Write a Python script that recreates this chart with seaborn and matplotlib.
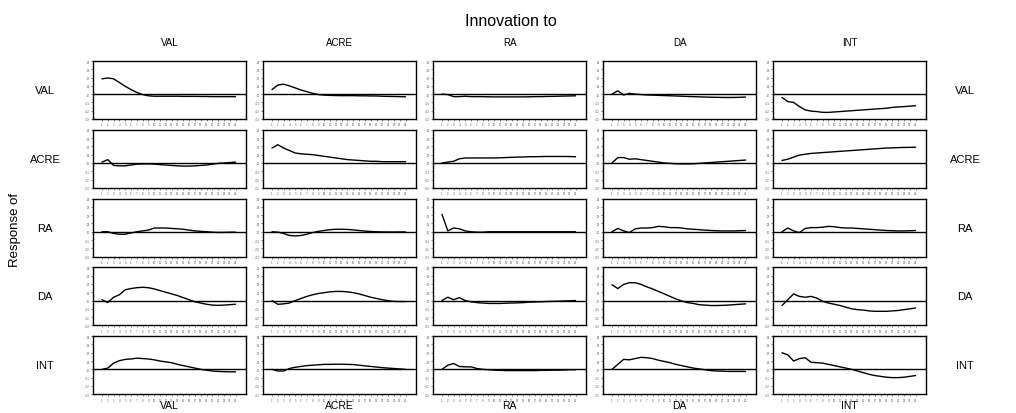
import matplotlib
matplotlib.use("Agg")
import matplotlib.pyplot as plt
import seaborn as sns
import numpy as np
import pandas as pd

sns.set_style("white")
plt.rcParams['font.family'] = ['Liberation Sans', 'DejaVu Sans']
plt.rcParams['text.color'] = 'black'

variables = ["VAL", "ACRE", "RA", "DA", "INT"]
periods = list(range(1, 25))
y_ticks = [-0.03, -0.02, -0.01, 0.0, 0.01, 0.02, 0.03, 0.04]
y_tick_labels = ["-.03", "-.02", "-.01", ".00", ".01", ".02", ".03", ".04"]

# responses (in hundredths); key = (response, innovation)
val_val = [1.85, 1.95, 1.85, 1.4, 0.95, 0.55, 0.2, -0.05, -0.2, -0.25, -0.25, -0.25, -0.25, -0.25, -0.27, -0.27, -0.27, -0.28, -0.28, -0.3, -0.3, -0.3, -0.3, -0.3]
val_acre = [0.55, 1.1, 1.2, 1.0, 0.75, 0.5, 0.3, 0.1, -0.05, -0.12, -0.15, -0.17, -0.18, -0.18, -0.18, -0.2, -0.2, -0.22, -0.22, -0.25, -0.27, -0.28, -0.3, -0.32]
val_ra = [0.0, -0.05, -0.3, -0.3, -0.25, -0.3, -0.3, -0.3, -0.32, -0.33, -0.33, -0.33, -0.33, -0.33, -0.33, -0.32, -0.3, -0.3, -0.28, -0.27, -0.25, -0.23, -0.22, -0.2]
val_da = [0.0, 0.4, -0.1, 0.1, 0.0, -0.05, -0.1, -0.12, -0.15, -0.17, -0.2, -0.22, -0.25, -0.28, -0.3, -0.33, -0.35, -0.37, -0.38, -0.4, -0.4, -0.4, -0.38, -0.35]
val_int = [-0.4, -0.9, -1.0, -1.5, -1.9, -2.05, -2.1, -2.2, -2.2, -2.15, -2.1, -2.05, -2.0, -1.95, -1.9, -1.85, -1.8, -1.75, -1.7, -1.6, -1.55, -1.5, -1.45, -1.4]

acre_val = [0.1, 0.4, -0.3, -0.35, -0.35, -0.25, -0.15, -0.12, -0.12, -0.15, -0.2, -0.25, -0.3, -0.35, -0.38, -0.38, -0.35, -0.3, -0.25, -0.15, -0.05, 0.0, 0.05, 0.1]
acre_acre = [1.8, 2.2, 1.8, 1.5, 1.2, 1.1, 1.05, 1.0, 0.9, 0.8, 0.7, 0.6, 0.5, 0.4, 0.35, 0.3, 0.25, 0.2, 0.2, 0.15, 0.15, 0.15, 0.15, 0.15]
acre_ra = [0.0, 0.1, 0.2, 0.5, 0.6, 0.6, 0.6, 0.6, 0.6, 0.6, 0.62, 0.65, 0.68, 0.7, 0.72, 0.75, 0.75, 0.77, 0.78, 0.78, 0.78, 0.78, 0.77, 0.75]
acre_da = [0.0, 0.65, 0.65, 0.45, 0.5, 0.4, 0.3, 0.2, 0.1, 0.0, -0.05, -0.1, -0.12, -0.12, -0.1, -0.05, 0.0, 0.05, 0.1, 0.15, 0.2, 0.25, 0.3, 0.35]
acre_int = [0.3, 0.45, 0.7, 0.95, 1.05, 1.15, 1.2, 1.25, 1.3, 1.35, 1.4, 1.45, 1.5, 1.55, 1.6, 1.65, 1.7, 1.75, 1.8, 1.82, 1.85, 1.87, 1.88, 1.9]

ra_val = [0.0, 0.0, -0.2, -0.3, -0.3, -0.15, 0.0, 0.1, 0.2, 0.45, 0.45, 0.45, 0.4, 0.35, 0.3, 0.2, 0.1, 0.05, 0.0, -0.05, -0.08, -0.08, -0.05, -0.05]
ra_acre = [0.0, -0.05, -0.2, -0.45, -0.5, -0.45, -0.3, -0.1, 0.05, 0.15, 0.25, 0.3, 0.3, 0.28, 0.22, 0.15, 0.08, 0.03, 0.0, -0.02, -0.03, -0.03, -0.02, -0.02]
ra_ra = [2.1, 0.1, 0.45, 0.35, 0.1, 0.0, -0.05, -0.05, 0.0, 0.0, 0.0, 0.0, 0.0, 0.0, 0.0, 0.0, 0.0, 0.0, 0.0, 0.0, 0.0, 0.0, 0.0, 0.0]
ra_da = [0.0, 0.4, 0.1, -0.1, 0.35, 0.45, 0.45, 0.5, 0.65, 0.6, 0.5, 0.5, 0.45, 0.35, 0.3, 0.25, 0.2, 0.15, 0.12, 0.1, 0.1, 0.1, 0.12, 0.15]
ra_int = [0.0, 0.45, 0.1, -0.1, 0.4, 0.5, 0.5, 0.55, 0.65, 0.6, 0.5, 0.45, 0.45, 0.4, 0.35, 0.3, 0.25, 0.2, 0.15, 0.12, 0.1, 0.1, 0.12, 0.15]

da_val = [0.1, -0.25, 0.4, 0.7, 1.3, 1.45, 1.55, 1.6, 1.55, 1.4, 1.2, 1.0, 0.8, 0.6, 0.35, 0.1, -0.15, -0.3, -0.45, -0.55, -0.58, -0.55, -0.5, -0.45]
da_acre = [0.0, -0.45, -0.4, -0.3, 0.0, 0.25, 0.5, 0.7, 0.85, 0.95, 1.05, 1.1, 1.1, 1.05, 0.95, 0.8, 0.6, 0.4, 0.25, 0.1, -0.02, -0.1, -0.12, -0.12]
da_ra = [0.0, 0.4, 0.1, 0.35, 0.0, -0.15, -0.25, -0.3, -0.35, -0.35, -0.35, -0.32, -0.3, -0.28, -0.25, -0.2, -0.18, -0.15, -0.12, -0.1, -0.08, -0.05, -0.03, 0.0]
da_da = [1.9, 1.45, 1.95, 2.15, 2.15, 1.95, 1.65, 1.4, 1.1, 0.8, 0.5, 0.2, -0.05, -0.25, -0.35, -0.5, -0.55, -0.6, -0.6, -0.58, -0.55, -0.5, -0.45, -0.4]
da_int = [-0.6, 0.1, 0.8, 0.5, 0.4, 0.5, 0.3, -0.1, -0.3, -0.45, -0.6, -0.8, -1.0, -1.1, -1.15, -1.25, -1.3, -1.3, -1.3, -1.25, -1.2, -1.1, -1.0, -0.9]

int_val = [0.0, 0.15, 0.75, 1.05, 1.2, 1.25, 1.35, 1.3, 1.25, 1.15, 1.0, 0.9, 0.8, 0.6, 0.45, 0.3, 0.15, 0.0, -0.1, -0.2, -0.25, -0.28, -0.3, -0.3]
int_acre = [0.0, -0.2, -0.2, 0.1, 0.25, 0.35, 0.45, 0.5, 0.55, 0.6, 0.6, 0.62, 0.62, 0.6, 0.58, 0.5, 0.42, 0.35, 0.28, 0.2, 0.15, 0.1, 0.05, 0.0]
int_ra = [0.0, 0.5, 0.7, 0.35, 0.3, 0.3, 0.1, 0.0, -0.05, -0.1, -0.12, -0.15, -0.15, -0.15, -0.15, -0.15, -0.15, -0.12, -0.12, -0.1, -0.1, -0.08, -0.05, -0.05]
int_da = [0.0, 0.6, 1.2, 1.15, 1.3, 1.45, 1.4, 1.3, 1.1, 0.95, 0.8, 0.6, 0.45, 0.3, 0.15, 0.05, -0.05, -0.15, -0.2, -0.22, -0.25, -0.25, -0.25, -0.25]
int_int = [2.0, 1.75, 1.0, 1.3, 1.4, 0.85, 0.8, 0.75, 0.6, 0.45, 0.3, 0.15, 0.0, -0.2, -0.4, -0.6, -0.75, -0.85, -0.95, -1.0, -1.0, -0.95, -0.85, -0.75]

responses = [
    [val_val, val_acre, val_ra, val_da, val_int],
    [acre_val, acre_acre, acre_ra, acre_da, acre_int],
    [ra_val, ra_acre, ra_ra, ra_da, ra_int],
    [da_val, da_acre, da_ra, da_da, da_int],
    [int_val, int_acre, int_ra, int_da, int_int],
]

W, H = 1016, 414
fig = plt.figure(figsize=(W / 100, H / 100), dpi=100)

col_left0, col_step, pw = 93, 170, 153
row_top0, row_step, ph = 62, 68.8, 58

for r in range(5):
    for c in range(5):
        left = col_left0 + c * col_step
        top = row_top0 + r * row_step
        ax = fig.add_axes([left / W, 1 - (top + ph) / H, pw / W, ph / H])
        df = pd.DataFrame({"period": periods,
                           "resp": np.array(responses[r][c]) / 100.0})
        ax.axhline(0, color="black", lw=1.0, zorder=1)
        sns.lineplot(data=df, x="period", y="resp", ax=ax, color="black",
                     lw=1.0, zorder=2)
        ax.set_xlim(-0.55, 25.8)
        ax.set_ylim(-0.03, 0.04)
        ax.set_xticks(periods)
        ax.set_xticklabels([str(p) for p in periods], fontsize=2, color="#555555")
        ax.set_yticks(y_ticks)
        ax.set_yticklabels(y_tick_labels, fontsize=2, color="#555555")
        ax.tick_params(axis="both", length=1.5, width=0.5, pad=1,
                       left=True, bottom=True, color="#555555")
        ax.set_xlabel("")
        ax.set_ylabel("")
        for s in ax.spines.values():
            s.set_color("black")
            s.set_linewidth(1.0)
        cx = (left + pw / 2) / W
        if r == 0:
            fig.text(cx, 1 - 43 / H, variables[c], ha="center", va="center",
                     fontsize=7, color="black")
        if r == 4:
            fig.text(cx, 1 - 406 / H, variables[c], ha="center", va="center",
                     fontsize=7.5, color="black")
        if c == 0:
            fig.text(45 / W, 1 - (top + ph / 2) / H, variables[r],
                     ha="center", va="center", fontsize=8, color="black")
        if c == 4:
            fig.text(965 / W, 1 - (top + ph / 2) / H, variables[r],
                     ha="center", va="center", fontsize=8, color="black")

fig.text(511 / W, 1 - 22 / H, "Innovation to", ha="center", va="center",
         fontsize=11.5, color="black")
fig.text(15 / W, 1 - 230 / H, "Response of", ha="center", va="center",
         rotation=90, fontsize=9.5, color="black")

fig.savefig("out.png", dpi=100)
